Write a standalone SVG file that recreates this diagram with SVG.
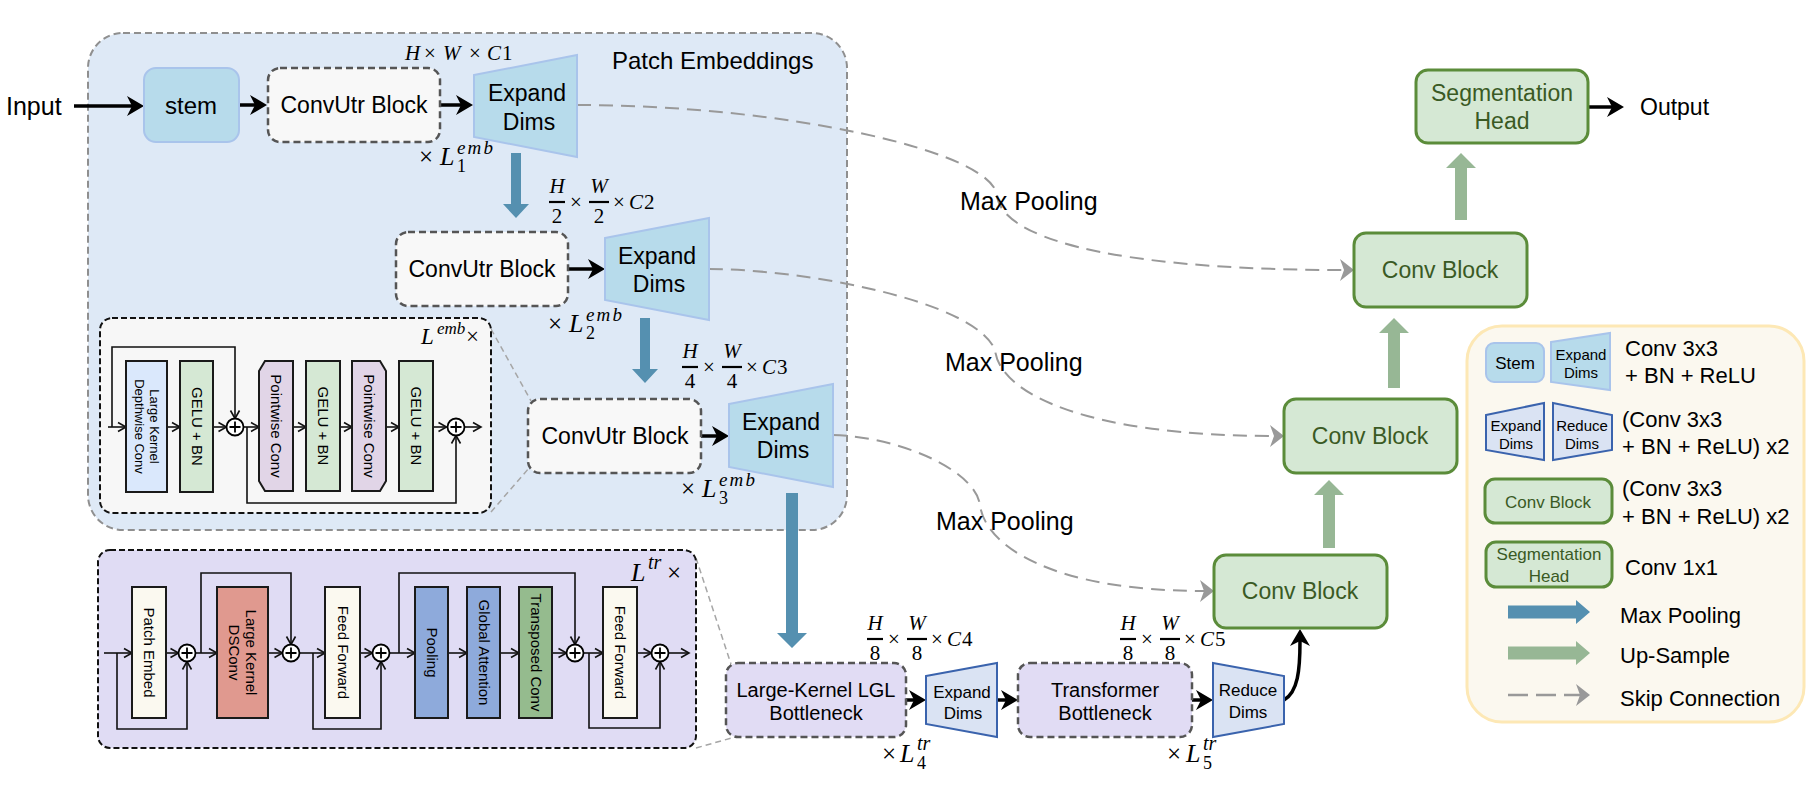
<svg xmlns="http://www.w3.org/2000/svg" width="1819" height="799" viewBox="0 0 1819 799">
<style>
.t{font-family:"Liberation Sans",Arial,sans-serif;fill:#000}
.c{text-anchor:middle}
.s{font-family:"Liberation Serif","DejaVu Serif",serif;fill:#000}
.i{font-style:italic}
.g{fill:#3a5a24}
.cu{fill:#f8f8f8;stroke:#555;stroke-width:2.5;stroke-dasharray:7 4}
.ex{fill:#b7dbeb;stroke:#a9c4eb;stroke-width:2}
.ex2{fill:#dae3f3;stroke:#3a63ad;stroke-width:2}
.bn{fill:#e1dcf4;stroke:#555;stroke-width:2.5;stroke-dasharray:7 4}
.cb{fill:#d5e8d4;stroke:#5b8c3a;stroke-width:3}
.ib{stroke:#1a1a1a;stroke-width:2}
.ln{fill:none;stroke:#111;stroke-width:1.6}
.ba{fill:#5590b0}
.ga{fill:#97b795}
.bk{fill:none;stroke:#000;stroke-width:3.5}
.sk{fill:none;stroke:#999;stroke-width:2;stroke-dasharray:14 8}
.zl{fill:none;stroke:#a6a6a6;stroke-width:1.5;stroke-dasharray:6 4}
.fb{stroke:#000;stroke-width:2.2}
.pl{fill:#fff;stroke:#000;stroke-width:1.8}
.fr{font-size:21px}
</style>
<defs>
<marker id="ab" markerUnits="userSpaceOnUse" markerWidth="18" markerHeight="22" refX="5" refY="11" orient="auto" overflow="visible"><path d="M0,1 L17,11 L0,21 L5,11 z" fill="#000"/></marker>
<marker id="ag" markerUnits="userSpaceOnUse" markerWidth="15" markerHeight="22" refX="4" refY="11" orient="auto" overflow="visible"><path d="M0,0 L14,11 L0,22 L4,11 z" fill="#999"/></marker>
<marker id="as" markerUnits="userSpaceOnUse" markerWidth="10" markerHeight="10" refX="8" refY="4.5" orient="auto" overflow="visible"><path d="M0,0 L8,4.5 L0,9" fill="none" stroke="#111" stroke-width="1.6"/></marker>
<g id="plus"><circle r="8.5" class="pl"/><path d="M-5.5,0 H5.5 M0,-5.5 V5.5" stroke="#000" stroke-width="1.8"/></g>
</defs>

<rect width="1819" height="799" fill="#fff"/>

<g id="patch-embeddings">
<rect x="88" y="33" width="759" height="497" rx="35" fill="#dee9f6" stroke="#8f8f8f" stroke-width="2" stroke-dasharray="7 4"/>
<text class="t" x="612" y="69" font-size="24">Patch Embeddings</text>
</g>

<g id="connectors">
<line class="bk" x1="74" y1="106" x2="132" y2="106" marker-end="url(#ab)"/>
<line class="bk" x1="239" y1="105" x2="255" y2="105" marker-end="url(#ab)"/>
<line class="bk" x1="440" y1="105" x2="461" y2="105" marker-end="url(#ab)"/>
<line class="bk" x1="568" y1="269" x2="593" y2="269" marker-end="url(#ab)"/>
<line class="bk" x1="701" y1="436" x2="717" y2="436" marker-end="url(#ab)"/>
<line class="bk" x1="906" y1="700" x2="914" y2="700" marker-end="url(#ab)"/>
<line class="bk" x1="997" y1="700" x2="1006" y2="700" marker-end="url(#ab)"/>
<line class="bk" x1="1192" y1="700" x2="1201" y2="700" marker-end="url(#ab)"/>
<line class="bk" x1="1588" y1="107" x2="1612" y2="107" marker-end="url(#ab)"/>
<path class="bk" d="M1284,700 C1298,692 1300,670 1300,641" marker-end="url(#ab)"/>
<path class="ba" d="M511,153 H521 V204 H529 L516,218 L503,204 H511 Z"/>
<path class="ba" d="M640,318 H650 V369 H658 L645,383 L632,369 H640 Z"/>
<path class="ba" d="M786,493 H798 V633 H807 L792,648 L777,633 H786 Z"/>
<path class="ga" d="M1455,220 H1467 V168 H1476 L1461,153 L1446,168 H1455 Z"/>
<path class="ga" d="M1388,388 H1400 V333 H1409 L1394,318 L1379,333 H1388 Z"/>
<path class="ga" d="M1323,548 H1335 V495 H1344 L1329,480 L1314,495 H1323 Z"/>
<path class="sk" d="M577,105 C780,105 990,150 997,195 C1000,235 1100,270 1344,270" marker-end="url(#ag)"/>
<path class="sk" d="M709,269 C800,269 975,300 995,350 C1000,395 1090,436 1274,436" marker-end="url(#ag)"/>
<path class="sk" d="M833,435 C900,437 975,470 980,505 C985,545 1050,591 1204,591" marker-end="url(#ag)"/>
<line class="zl" x1="491" y1="329" x2="531" y2="401"/>
<line class="zl" x1="491" y1="512" x2="529" y2="468"/>
<line class="zl" x1="696" y1="558" x2="731" y2="664"/>
<line class="zl" x1="696" y1="748" x2="735" y2="737"/>
</g>

<g id="labels">
<text class="t" x="6" y="115" font-size="25">Input</text>
<text class="t" x="1640" y="115" font-size="23">Output</text>
<text class="t" x="960" y="210" font-size="25">Max Pooling</text>
<text class="t" x="945" y="371" font-size="25">Max Pooling</text>
<text class="t" x="936" y="530" font-size="25">Max Pooling</text>
<text class="s" y="60" font-size="21"><tspan class="i" x="405">H</tspan><tspan x="424">×</tspan><tspan class="i" x="443">W</tspan><tspan x="469">×</tspan><tspan class="i" x="487">C</tspan><tspan x="502">1</tspan></text>
<g id="frac-c2" transform="translate(549,202)">
<text class="s c i fr" x="8" y="-9">H</text><line class="fb" x1="0" y1="0" x2="16" y2="0"/><text class="s c fr" x="8" y="21">2</text>
<text class="s c fr" x="27" y="7">×</text>
<text class="s c i fr" x="50" y="-9">W</text><line class="fb" x1="40" y1="0" x2="60" y2="0"/><text class="s c fr" x="50" y="21">2</text>
<text class="s fr" y="7"><tspan x="64">×</tspan><tspan class="i" x="80">C</tspan><tspan x="95">2</tspan></text>
</g>
<g id="frac-c3" transform="translate(682,367)">
<text class="s c i fr" x="8" y="-9">H</text><line class="fb" x1="0" y1="0" x2="16" y2="0"/><text class="s c fr" x="8" y="21">4</text>
<text class="s c fr" x="27" y="7">×</text>
<text class="s c i fr" x="50" y="-9">W</text><line class="fb" x1="40" y1="0" x2="60" y2="0"/><text class="s c fr" x="50" y="21">4</text>
<text class="s fr" y="7"><tspan x="64">×</tspan><tspan class="i" x="80">C</tspan><tspan x="95">3</tspan></text>
</g>
<g id="frac-c4" transform="translate(867,639)">
<text class="s c i fr" x="8" y="-9">H</text><line class="fb" x1="0" y1="0" x2="16" y2="0"/><text class="s c fr" x="8" y="21">8</text>
<text class="s c fr" x="27" y="7">×</text>
<text class="s c i fr" x="50" y="-9">W</text><line class="fb" x1="40" y1="0" x2="60" y2="0"/><text class="s c fr" x="50" y="21">8</text>
<text class="s fr" y="7"><tspan x="64">×</tspan><tspan class="i" x="80">C</tspan><tspan x="95">4</tspan></text>
</g>
<g id="frac-c5" transform="translate(1120,639)">
<text class="s c i fr" x="8" y="-9">H</text><line class="fb" x1="0" y1="0" x2="16" y2="0"/><text class="s c fr" x="8" y="21">8</text>
<text class="s c fr" x="27" y="7">×</text>
<text class="s c i fr" x="50" y="-9">W</text><line class="fb" x1="40" y1="0" x2="60" y2="0"/><text class="s c fr" x="50" y="21">8</text>
<text class="s fr" y="7"><tspan x="64">×</tspan><tspan class="i" x="80">C</tspan><tspan x="95">5</tspan></text>
</g>
<g id="rep-l1"><text class="s" x="419" y="165" font-size="25">×</text><text class="s i" x="440" y="165" font-size="26">L</text><text class="s i" x="457" y="154" font-size="19" textLength="36">emb</text><text class="s" x="457" y="172" font-size="18">1</text></g>
<g id="rep-l2"><text class="s" x="548" y="332" font-size="25">×</text><text class="s i" x="569" y="332" font-size="26">L</text><text class="s i" x="586" y="321" font-size="19" textLength="36">emb</text><text class="s" x="586" y="339" font-size="18">2</text></g>
<g id="rep-l3"><text class="s" x="681" y="497" font-size="25">×</text><text class="s i" x="702" y="497" font-size="26">L</text><text class="s i" x="719" y="486" font-size="19" textLength="36">emb</text><text class="s" x="719" y="504" font-size="18">3</text></g>
<g id="rep-l4"><text class="s" x="882" y="762" font-size="25">×</text><text class="s i" x="900" y="762" font-size="26">L</text><text class="s i" x="917" y="750" font-size="20">tr</text><text class="s" x="917" y="769" font-size="18">4</text></g>
<g id="rep-l5"><text class="s" x="1167" y="762" font-size="25">×</text><text class="s i" x="1186" y="762" font-size="26">L</text><text class="s i" x="1203" y="750" font-size="20">tr</text><text class="s" x="1203" y="769" font-size="18">5</text></g>
</g>

<g id="stem"><rect x="144" y="68" width="95" height="74" rx="12" fill="#b7dbeb" stroke="#a9c4eb" stroke-width="2"/><text class="t c" x="191" y="114" font-size="24">stem</text></g>
<g id="convutr1"><rect class="cu" x="268" y="68" width="172" height="74" rx="12"/><text class="t c" x="354" y="113" font-size="23">ConvUtr Block</text></g>
<g id="expand1"><polygon class="ex" points="474,75 577,55 577,157 474,137"/><text class="t c" x="527" y="101" font-size="23">Expand</text><text class="t c" x="529" y="130" font-size="23">Dims</text></g>
<g id="convutr2"><rect class="cu" x="396" y="232" width="172" height="74" rx="12"/><text class="t c" x="482" y="277" font-size="23">ConvUtr Block</text></g>
<g id="expand2"><polygon class="ex" points="605,238 709,218 709,320 605,300"/><text class="t c" x="657" y="264" font-size="23">Expand</text><text class="t c" x="659" y="292" font-size="23">Dims</text></g>
<g id="convutr3"><rect class="cu" x="528" y="399" width="173" height="74" rx="12"/><text class="t c" x="615" y="444" font-size="23">ConvUtr Block</text></g>
<g id="expand3"><polygon class="ex" points="729,404 833,384 833,487 729,467"/><text class="t c" x="781" y="430" font-size="23">Expand</text><text class="t c" x="783" y="458" font-size="23">Dims</text></g>

<g id="convutr-detail">
<rect x="100" y="318" width="391" height="195" rx="12" fill="#f7f7f7" stroke="#111" stroke-width="2" stroke-dasharray="6 3"/>
<text class="s i" x="421" y="344" font-size="23">L</text><text class="s i" x="437" y="334" font-size="17">emb</text><text class="s" x="466" y="344" font-size="23">×</text>
<g>
<path class="ln" d="M108,427 H126" marker-end="url(#as)"/>
<path class="ln" d="M112,427 V347 H235 V418.5" marker-end="url(#as)"/>
<path class="ln" d="M167,427 H180" marker-end="url(#as)"/>
<path class="ln" d="M213,427 H226.5" marker-end="url(#as)"/>
<path class="ln" d="M243.5,427 H259" marker-end="url(#as)"/>
<path class="ln" d="M293,427 H306" marker-end="url(#as)"/>
<path class="ln" d="M340,427 H352" marker-end="url(#as)"/>
<path class="ln" d="M386,427 H399" marker-end="url(#as)"/>
<path class="ln" d="M433,427 H446.5" marker-end="url(#as)"/>
<path class="ln" d="M464.5,427 H481" marker-end="url(#as)"/>
<path class="ln" d="M247,427 V503 H456 V435.5" marker-end="url(#as)"/>
</g>
<g id="lkdw"><rect class="ib" x="126" y="361" width="41" height="131" fill="#dae8fc"/><text class="t c" transform="translate(146.5,426.5) rotate(90)" font-size="13"><tspan x="0" y="-3">Large Kernel</tspan><tspan x="0" y="12">Depthwise Conv</tspan></text></g>
<g id="gelu1"><rect class="ib" x="180" y="361" width="33" height="131" fill="#d5e8d4"/><text class="t c" transform="translate(196.5,426.5) rotate(90)" x="0" y="5" font-size="15">GELU + BN</text></g>
<use href="#plus" x="235" y="427"/>
<g id="pw1"><path class="ib" d="M265,361 H293 V491 H265 L259,481 V371 Z" fill="#e1d5e7"/><text class="t c" transform="translate(276,426) rotate(90)" x="0" y="5" font-size="15">Pointwise Conv</text></g>
<g id="gelu2"><rect class="ib" x="306" y="361" width="34" height="130" fill="#d5e8d4"/><text class="t c" transform="translate(323,426) rotate(90)" x="0" y="5" font-size="15">GELU + BN</text></g>
<g id="pw2"><path class="ib" d="M352,361 H380 L386,371 V481 L380,491 H352 Z" fill="#e1d5e7"/><text class="t c" transform="translate(369,426) rotate(90)" x="0" y="5" font-size="15">Pointwise Conv</text></g>
<g id="gelu3"><rect class="ib" x="399" y="361" width="34" height="130" fill="#d5e8d4"/><text class="t c" transform="translate(416,426) rotate(90)" x="0" y="5" font-size="15">GELU + BN</text></g>
<use href="#plus" x="456" y="427"/>
</g>

<g id="transformer-detail">
<rect x="98" y="550" width="598" height="198" rx="12" fill="#e0dcf4" stroke="#111" stroke-width="2" stroke-dasharray="6 3"/>
<text class="s i" x="631" y="581" font-size="26">L</text><text class="s i" x="648" y="569" font-size="20">tr</text><text class="s" x="667" y="581" font-size="25">×</text>
<g>
<path class="ln" d="M104,653 H132" marker-end="url(#as)"/>
<path class="ln" d="M117,653 V729 H187 V661.5" marker-end="url(#as)"/>
<path class="ln" d="M166,653 H178.5" marker-end="url(#as)"/>
<path class="ln" d="M195.5,653 H217" marker-end="url(#as)"/>
<path class="ln" d="M201,653 V573 H291 V644.5" marker-end="url(#as)"/>
<path class="ln" d="M268,653 H282.5" marker-end="url(#as)"/>
<path class="ln" d="M299.5,653 H325" marker-end="url(#as)"/>
<path class="ln" d="M313,653 V729 H381 V661.5" marker-end="url(#as)"/>
<path class="ln" d="M360,653 H372.5" marker-end="url(#as)"/>
<path class="ln" d="M389.5,653 H415" marker-end="url(#as)"/>
<path class="ln" d="M399,653 V573 H575 V644.5" marker-end="url(#as)"/>
<path class="ln" d="M448,653 H467" marker-end="url(#as)"/>
<path class="ln" d="M500,653 H519" marker-end="url(#as)"/>
<path class="ln" d="M552,653 H566.5" marker-end="url(#as)"/>
<path class="ln" d="M583.5,653 H603" marker-end="url(#as)"/>
<path class="ln" d="M589,653 V728 H660 V661.5" marker-end="url(#as)"/>
<path class="ln" d="M637,653 H651.5" marker-end="url(#as)"/>
<path class="ln" d="M668.5,653 H689" marker-end="url(#as)"/>
</g>
<g id="patch-embed"><rect class="ib" x="132" y="587" width="34" height="131" fill="#fbf9f0"/><text class="t c" transform="translate(149,652.5) rotate(90)" x="0" y="5" font-size="15">Patch Embed</text></g>
<use href="#plus" x="187" y="653"/>
<g id="lk-dsconv"><rect class="ib" x="217" y="587" width="51" height="131" fill="#e0998f"/><text class="t c" transform="translate(242.5,652.5) rotate(90)" font-size="15"><tspan x="0" y="-3">Large Kernel</tspan><tspan x="0" y="14">DSConv</tspan></text></g>
<use href="#plus" x="291" y="653"/>
<g id="ff1"><rect class="ib" x="325" y="587" width="35" height="131" fill="#fbf9f0"/><text class="t c" transform="translate(342.5,652.5) rotate(90)" x="0" y="5" font-size="15">Feed Forward</text></g>
<use href="#plus" x="381" y="653"/>
<g id="pooling"><rect class="ib" x="415" y="587" width="33" height="131" fill="#8eaadb"/><text class="t c" transform="translate(431.5,652.5) rotate(90)" x="0" y="5" font-size="15">Pooling</text></g>
<g id="global-attn"><rect class="ib" x="467" y="587" width="33" height="131" fill="#8eaadb"/><text class="t c" transform="translate(483.5,652.5) rotate(90)" x="0" y="5" font-size="15">Global Attention</text></g>
<g id="transposed"><rect class="ib" x="519" y="587" width="33" height="131" fill="#95bb8e"/><text class="t c" transform="translate(535.5,652.5) rotate(90)" x="0" y="5" font-size="15">Transposed Conv</text></g>
<use href="#plus" x="575" y="653"/>
<g id="ff2"><rect class="ib" x="603" y="587" width="34" height="131" fill="#fbf9f0"/><text class="t c" transform="translate(620,652.5) rotate(90)" x="0" y="5" font-size="15">Feed Forward</text></g>
<use href="#plus" x="660" y="653"/>
</g>

<g id="lgl"><rect class="bn" x="726" y="663" width="180" height="74" rx="12"/><text class="t c" x="816" y="697" font-size="20">Large-Kernel LGL</text><text class="t c" x="816" y="720" font-size="20">Bottleneck</text></g>
<g id="expand4"><polygon class="ex2" points="926,676 997,663 997,737 926,724"/><text class="t c" x="962" y="698" font-size="17">Expand</text><text class="t c" x="963" y="719" font-size="17">Dims</text></g>
<g id="transformer"><rect class="bn" x="1018" y="663" width="174" height="74" rx="12"/><text class="t c" x="1105" y="697" font-size="20">Transformer</text><text class="t c" x="1105" y="720" font-size="20">Bottleneck</text></g>
<g id="reduce"><polygon class="ex2" points="1213,663 1284,676 1284,724 1213,737"/><text class="t c" x="1248" y="696" font-size="17">Reduce</text><text class="t c" x="1248" y="718" font-size="17">Dims</text></g>

<g id="convblock3"><rect class="cb" x="1214" y="555" width="173" height="73" rx="12"/><text class="t c g" x="1300" y="599" font-size="23">Conv Block</text></g>
<g id="convblock2"><rect class="cb" x="1284" y="399" width="173" height="74" rx="12"/><text class="t c g" x="1370" y="444" font-size="23">Conv Block</text></g>
<g id="convblock1"><rect class="cb" x="1354" y="233" width="173" height="74" rx="12"/><text class="t c g" x="1440" y="278" font-size="23">Conv Block</text></g>
<g id="seghead"><rect class="cb" x="1416" y="70" width="172" height="73" rx="12"/><text class="t c g" x="1502" y="101" font-size="23">Segmentation</text><text class="t c g" x="1502" y="129" font-size="23">Head</text></g>

<g id="legend">
<rect x="1467" y="326" width="337" height="396" rx="35" fill="#fbf8ef" stroke="#fde8b5" stroke-width="3"/>
<rect x="1486" y="343" width="58" height="39" rx="8" fill="#b7dbeb" stroke="#a9c4eb" stroke-width="2"/>
<text class="t c" x="1515" y="369" font-size="17">Stem</text>
<polygon class="ex" points="1551,342 1610,333 1610,390 1551,382"/>
<text class="t c" x="1581" y="360" font-size="15">Expand</text><text class="t c" x="1581" y="378" font-size="15">Dims</text>
<text class="t" x="1625" y="356" font-size="22">Conv 3x3</text><text class="t" x="1625" y="383" font-size="22">+ BN + ReLU</text>
<polygon class="ex2" points="1486,415 1544,403 1544,460 1486,450"/>
<text class="t c" x="1516" y="431" font-size="15">Expand</text><text class="t c" x="1516" y="449" font-size="15">Dims</text>
<polygon class="ex2" points="1553,403 1612,415 1612,450 1553,460"/>
<text class="t c" x="1582" y="431" font-size="15">Reduce</text><text class="t c" x="1582" y="449" font-size="15">Dims</text>
<text class="t" x="1622" y="427" font-size="22">(Conv 3x3</text><text class="t" x="1622" y="454" font-size="22">+ BN + ReLU) x2</text>
<rect class="cb" x="1485" y="479" width="127" height="44" rx="10" stroke-width="2"/>
<text class="t c g" x="1548" y="508" font-size="17">Conv Block</text>
<text class="t" x="1622" y="496" font-size="22">(Conv 3x3</text><text class="t" x="1622" y="524" font-size="22">+ BN + ReLU) x2</text>
<rect class="cb" x="1486" y="542" width="126" height="45" rx="10" stroke-width="2"/>
<text class="t c g" x="1549" y="560" font-size="17">Segmentation</text><text class="t c g" x="1549" y="582" font-size="17">Head</text>
<text class="t" x="1625" y="575" font-size="22">Conv 1x1</text>
<path class="ba" d="M1508,605.5 H1576 V600 L1590,612 L1576,624 V618.5 H1508 Z"/>
<text class="t" x="1620" y="623" font-size="22">Max Pooling</text>
<path class="ga" d="M1508,646.5 H1576 V641 L1590,653 L1576,665 V659.5 H1508 Z"/>
<text class="t" x="1620" y="663" font-size="22">Up-Sample</text>
<line x1="1508" y1="695" x2="1580" y2="695" stroke="#999" stroke-width="2.5" stroke-dasharray="20 8" marker-end="url(#ag)"/>
<text class="t" x="1620" y="706" font-size="22">Skip Connection</text>
</g>
</svg>
